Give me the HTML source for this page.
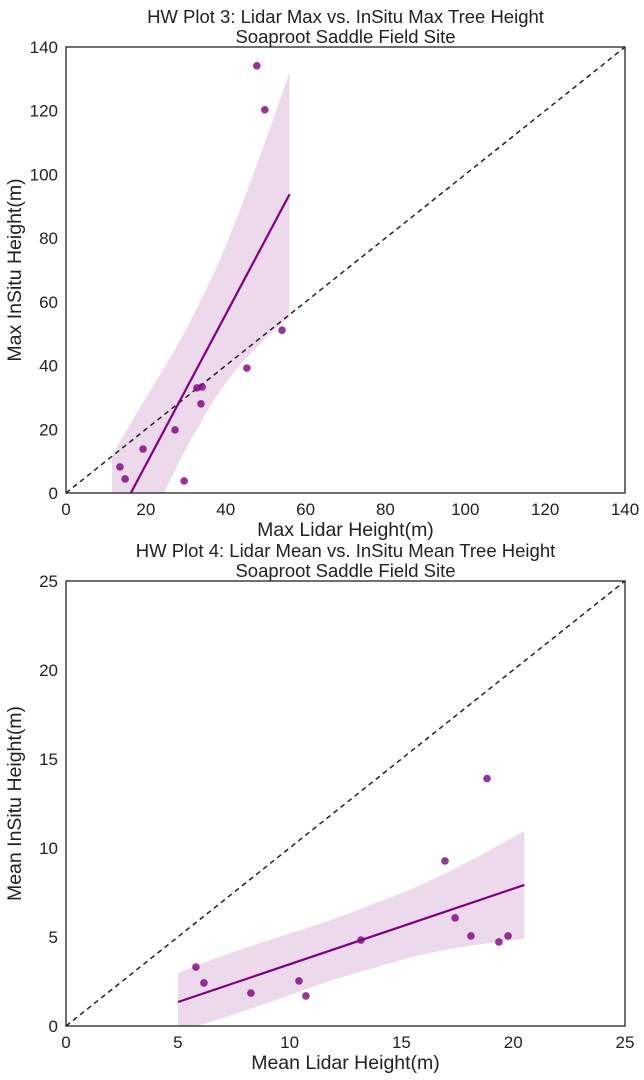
<!DOCTYPE html>
<html><head><meta charset="utf-8">
<style>
html,body{margin:0;padding:0;background:#fff;}
svg{display:block;font-family:"Liberation Sans",sans-serif;}
</style></head>
<body>
<svg id="chart" width="644" height="1080">
<defs>
<clipPath id="clip1"><rect x="66" y="47" width="559" height="446"/></clipPath>
<clipPath id="clip2"><rect x="66" y="581" width="559" height="445"/></clipPath>
</defs>
</svg>
<script>
// Plot 3 data (max heights)
const maxLidar = [13.5,14.8,19.3,27.3,29.6,32.8,34.1,33.8,45.3,54.1,47.8,49.8];
const maxInsitu = [8.2,4.4,13.8,19.8,3.8,33.0,33.3,28.0,39.2,51.1,134.1,120.3];
const ticks1 = [0,20,40,60,80,100,120,140];
// Plot 4 data (mean heights)
const meanLidar = [5.81,6.17,8.27,10.42,10.73,13.19,16.95,17.4,18.11,18.83,19.36,19.77];
const meanInsitu = [3.31,2.42,1.85,2.53,1.69,4.83,9.27,6.07,5.06,13.9,4.72,5.06];
const ticks2 = [0,5,10,15,20,25];

const NS="http://www.w3.org/2000/svg";
const svg=document.getElementById('chart');
function mk(tag,attrs,parent){const e=document.createElementNS(NS,tag);for(const k in attrs)e.setAttribute(k,attrs[k]);(parent||svg).appendChild(e);return e;}

function drawPlot(cfg){
  const {xs,ys,ticks,max,L,R,T,B,clip,title1,title2,xlabel,ylabel,key,leftScale}=cfg;
  const sx=v=>L+(v/max)*(R-L);
  const sy=v=>B-(v/max)*(B-T);
  const g=mk('g',{});
  
  
  const n=xs.length;
  const mx=xs.reduce((a,b)=>a+b)/n,my=ys.reduce((a,b)=>a+b)/n;
  let sxx=0,sxy=0;for(let i=0;i<n;i++){sxx+=(xs[i]-mx)**2;sxy+=(xs[i]-mx)*(ys[i]-my);}
  const b=sxy/sxx,a=my-b*mx;
  let sse=0;for(let i=0;i<n;i++)sse+=(ys[i]-a-b*xs[i])**2;
  const s=Math.sqrt(sse/(n-2)),t=2.228;
  const x1=Math.max(...xs)+(max>50?1.9:0.73);
  const lo=Math.min(...xs)-(max>50?2:0.8);
  const up=[],dn=[];
  for(let k=0;k<=60;k++){
    const x=lo+(x1-lo)*k/60;const yh=a+b*x;
    let h=t*s*Math.sqrt(1/n+(x-mx)**2/sxx);
    if(x<mx){h*=1-(1-leftScale)*((mx-x)/(mx-lo));}
    up.push([sx(x),sy(yh+h)]);dn.push([sx(x),sy(yh-h)]);
  }
  const band=mk('path',{d:'M'+up.map(p=>p.join(',')).join('L')+'L'+dn.reverse().map(p=>p.join(',')).join('L')+'Z',fill:'#800080','fill-opacity':0.15,'clip-path':`url(#${clip})`},g);
  
  
  const d=mk('line',{x1:sx(0),y1:sy(0),x2:sx(max),y2:sy(max),stroke:'#222','stroke-width':1.5,'stroke-dasharray':'5,4'},g);
  
  
  const rl=mk('line',{x1:sx(lo),y1:sy(a+b*lo),x2:sx(x1),y2:sy(a+b*x1),stroke:'#800080','stroke-width':2.2,'clip-path':`url(#${clip})`},g);
  
  
  for(let i=0;i<n;i++){
    const c=mk('circle',{cx:sx(xs[i]),cy:sy(ys[i]),r:3.8,fill:'#800080','fill-opacity':0.8},g);
    
    
  }
  const fr=mk('rect',{x:L,y:T,width:R-L,height:B-T,fill:'none',stroke:'#222','stroke-width':1.3},g);
  
  
  ticks.forEach(v=>{
    const tx=mk('text',{x:sx(v),y:B+22,'text-anchor':'middle','font-size':17,fill:'#222'},g);tx.textContent=v;
    
    
    const ty=mk('text',{x:L-8,y:sy(v)+6,'text-anchor':'end','font-size':17,fill:'#222'},g);ty.textContent=v;
    
    
  });
  const t1=mk('text',{x:(L+R)/2,y:T-24,'text-anchor':'middle','font-size':18.5,fill:'#222'},g);t1.textContent=title1;
  
  
  const t2=mk('text',{x:(L+R)/2,y:T-4,'text-anchor':'middle','font-size':18.5,fill:'#222'},g);t2.textContent=title2;
  
  
  const xl=mk('text',{x:(L+R)/2,y:B+43,'text-anchor':'middle','font-size':19.5,fill:'#222'},g);xl.textContent=xlabel;
  
  
  const yl=mk('text',{x:0,y:0,'text-anchor':'middle','font-size':19.5,fill:'#222',transform:`translate(21,${(T+B)/2}) rotate(-90)`},g);yl.textContent=ylabel;
  
  
}
drawPlot({xs:maxLidar,ys:maxInsitu,ticks:ticks1,max:140,L:66,R:625,T:47,B:493,clip:'clip1',leftScale:0.6,
  title1:'HW Plot 3: Lidar Max vs. InSitu Max Tree Height',title2:'Soaproot Saddle Field Site',
  xlabel:'Max Lidar Height(m)',ylabel:'Max InSitu Height(m)',key:'max'});
drawPlot({xs:meanLidar,ys:meanInsitu,ticks:ticks2,max:25,L:66,R:625,T:581,B:1026,clip:'clip2',leftScale:0.45,
  title1:'HW Plot 4: Lidar Mean vs. InSitu Mean Tree Height',title2:'Soaproot Saddle Field Site',
  xlabel:'Mean Lidar Height(m)',ylabel:'Mean InSitu Height(m)',key:'mean'});
</script>
</body></html>
